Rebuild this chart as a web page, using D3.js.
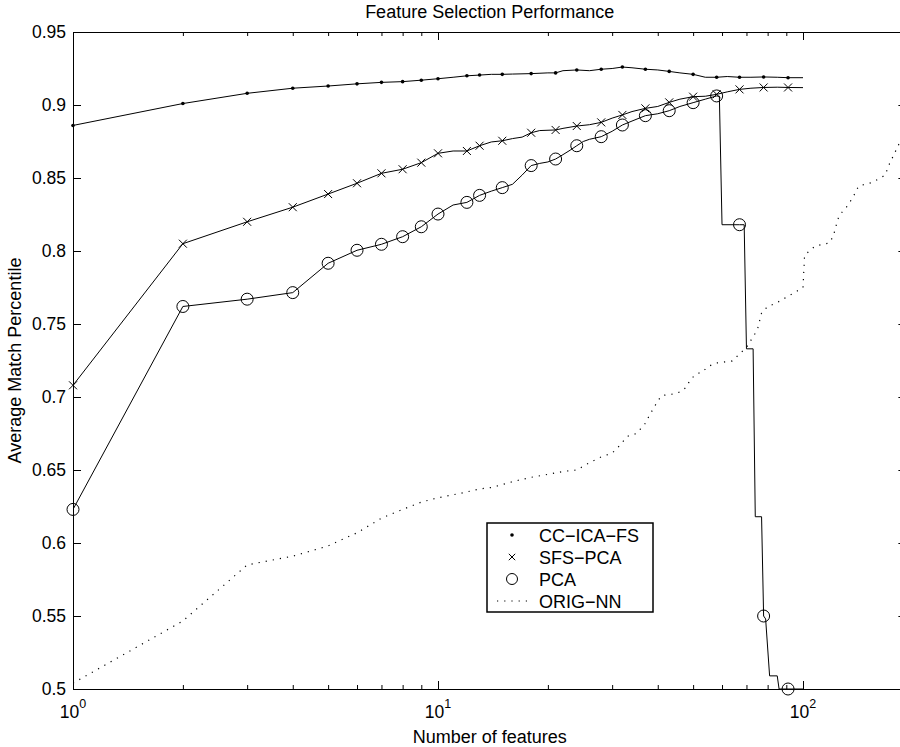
<!DOCTYPE html>
<html>
<head>
<meta charset="utf-8">
<script src="https://cdn.jsdelivr.net/npm/d3@7"></script>
<style>
  body { margin: 0; background: #fff; }
  svg { display: block; font-family: "Liberation Sans", Arial, sans-serif; }
</style>
</head>
<body>
<div id="chart"></div>
<script>
const width = 900;
const height = 747;

// values: [number of features, average match percentile]
const ccIcaFs = [[1,0.886],[2,0.901],[3,0.908],[4,0.9115],[5,0.913],[6,0.9145],[7,0.9155],[8,0.916],[9,0.917],[10,0.918],
  [11,0.919],[12,0.92],[13,0.9205],[14,0.921],[15,0.921],[16,0.9212],[18,0.9215],[20,0.922],[21,0.922],[22,0.9235],
  [24,0.924],[26,0.9235],[28,0.9245],[30,0.925],[32,0.926],[34,0.9255],[37,0.9245],[40,0.924],[43,0.923],[46,0.922],
  [50,0.921],[54,0.919],[58,0.919],[62,0.9195],[67,0.919],[72,0.919],[78,0.9192],[85,0.919],[91,0.9187],[100,0.9187]];

const sfsPca = [[1,0.708],[2,0.805],[3,0.82],[4,0.83],[5,0.839],[6,0.8464],[7,0.8532],[8,0.856],[9,0.8605],[10,0.8669],
  [11,0.8685],[12,0.8685],[13,0.8721],[14,0.8747],[15,0.8755],[16,0.877],[17,0.878],[18,0.881],[19,0.8825],[21,0.8829],
  [22,0.884],[24,0.8856],[26,0.8865],[28,0.8881],[30,0.891],[32,0.8932],[34,0.8955],[37,0.8977],[40,0.899],[43,0.9018],
  [46,0.904],[50,0.9057],[54,0.906],[58,0.9073],[62,0.909],[67,0.9107],[72,0.9115],[78,0.912],[85,0.9122],[91,0.912],[100,0.9119]];

const pca = [[1,0.623],[2,0.762],[3,0.767],[4,0.7715],[5,0.7916],[6,0.8005],[7,0.8046],[8,0.8098],[9,0.8166],[10,0.8253],
  [11,0.8315],[12,0.8333],[13,0.8381],[14,0.841],[15,0.8434],[16,0.8457],[17,0.852],[18,0.8585],[19,0.86],[20,0.861],
  [21,0.863],[22,0.866],[23,0.869],[24,0.8721],[25,0.875],[26,0.8765],[28,0.8783],[30,0.882],[32,0.8863],[34,0.889],
  [37,0.8927],[40,0.894],[43,0.8961],[46,0.899],[50,0.9016],[54,0.904],[58,0.9062],[59,0.906],[60,0.818],[67,0.818],
  [69,0.818],[70,0.733],[73,0.733],[74,0.618],[77,0.618],[78,0.55],[79,0.548],[81,0.509],[85,0.509],[86,0.5],[91,0.5],[100,0.5]];

const origNn = [[1,0.504],[2,0.5466],[3,0.585],[4,0.591],[5,0.598],[6,0.607],[7,0.617],[8,0.623],[9,0.628],[10,0.631],
  [11,0.633],[12,0.635],[13,0.637],[14,0.638],[15,0.64],[16,0.642],[18,0.645],[20,0.647],[22,0.649],[24,0.65],
  [26,0.655],[28,0.659],[30,0.6616],[31,0.665],[32,0.669],[33,0.673],[35,0.675],[37,0.682],[38,0.6877],[39,0.6925],
  [40,0.6973],[41,0.701],[44,0.702],[46,0.7034],[48,0.7068],[49,0.7116],[51,0.7158],[53,0.7171],[55,0.721],[58,0.7233],
  [61,0.724],[64,0.7247],[70,0.734],[75,0.746],[77,0.7575],[80,0.762],[84,0.764],[94,0.771],[100,0.775],[101,0.797],
  [104,0.8],[108,0.8034],[118,0.8055],[121,0.81],[123,0.8166],[125,0.8226],[128,0.8267],[133,0.8315],[139,0.8397],
  [142,0.8445],[155,0.847],[168,0.852],[172,0.859],[179,0.868],[183,0.873],[192,0.88]];

// feature counts where markers are drawn
const markerIdx = [1,2,3,4,5,6,7,8,9,10,12,13,15,18,21,24,28,32,37,43,50,58,67,78,91];

const legendNames = ["CC\u2212ICA\u2212FS", "SFS\u2212PCA", "PCA", "ORIG\u2212NN"];
const yTicks = [0.5, 0.55, 0.6, 0.65, 0.7, 0.75, 0.8, 0.85, 0.9, 0.95];
const xMajor = [1, 10, 100];
const xMinor = [2,3,4,5,6,7,8,9,20,30,40,50,60,70,80,90,200];
const xLimits = [1, 192];
const yLimits = [0.5, 0.95];

const plotLeft = 73, plotTop = 32, plotBottom = 689, decade = 365;

const x = d3.scaleLog()
    .domain(xLimits)
    .range([plotLeft, plotLeft + decade * Math.log10(xLimits[1])]);
const y = d3.scaleLinear()
    .domain(yLimits)
    .range([plotBottom, plotTop]);

const plotRight = x.range()[1];

const svg = d3.select("#chart")
    .append("svg")
    .attr("width", width)
    .attr("height", height);

svg.append("defs").append("clipPath")
    .attr("id", "plot-clip")
    .append("rect")
    .attr("x", plotLeft).attr("y", plotTop)
    .attr("width", plotRight - plotLeft).attr("height", plotBottom - plotTop);

// axes (MATLAB style, ticks pointing inwards on all four sides)
const axisStyle = g => {
    g.selectAll(".domain").attr("stroke", "#000").attr("stroke-width", 1);
    g.selectAll(".tick line").attr("stroke", "#000").attr("stroke-width", 1);
    g.selectAll("text").attr("fill", "#000").attr("font-size", 17.5)
        .attr("font-family", "'Liberation Sans', Arial, sans-serif");
};

svg.append("g")
    .attr("transform", `translate(0,${plotBottom})`)
    .call(d3.axisBottom(x).tickValues(xMajor).tickSize(-8).tickSizeOuter(0).tickFormat(""))
    .call(axisStyle);
svg.append("g")
    .attr("transform", `translate(0,${plotBottom})`)
    .call(d3.axisBottom(x).tickValues(xMinor).tickSize(-4).tickSizeOuter(0).tickFormat(""))
    .call(axisStyle);
svg.append("g")
    .attr("transform", `translate(0,${plotTop})`)
    .call(d3.axisTop(x).tickValues(xMajor).tickSize(-8).tickSizeOuter(0).tickFormat(""))
    .call(axisStyle);
svg.append("g")
    .attr("transform", `translate(0,${plotTop})`)
    .call(d3.axisTop(x).tickValues(xMinor).tickSize(-4).tickSizeOuter(0).tickFormat(""))
    .call(axisStyle);

svg.append("g")
    .attr("transform", `translate(${plotLeft},0)`)
    .call(d3.axisLeft(y).tickValues(yTicks).tickSize(-8).tickSizeOuter(0).tickPadding(7)
        .tickFormat(d => String(+d.toFixed(2))))
    .call(axisStyle);
svg.append("g")
    .attr("transform", `translate(${plotRight},0)`)
    .call(d3.axisRight(y).tickValues(yTicks).tickSize(-8).tickSizeOuter(0).tickFormat(""))
    .call(axisStyle);

// x tick labels as powers of ten
const xLabels = svg.append("g")
    .attr("font-size", 17.5);
xMajor.forEach(v => {
    const t = xLabels.append("text")
        .attr("x", x(v))
        .attr("y", plotBottom + 29)
        .attr("text-anchor", "middle");
    t.append("tspan").text("10");
    t.append("tspan").attr("dy", -10).attr("font-size", 12.5).text(Math.round(Math.log10(v)));
});

// series
const line = d3.line()
    .x(d => x(d[0]))
    .y(d => y(d[1]));

const plot = svg.append("g");
const lines = plot.append("g").attr("clip-path", "url(#plot-clip)");

[ccIcaFs, sfsPca, pca].forEach(data => {
    lines.append("path")
        .datum(data)
        .attr("d", line)
        .attr("fill", "none")
        .attr("stroke", "#000")
        .attr("stroke-width", 1);
});

lines.append("path")
    .datum(origNn)
    .attr("d", line)
    .attr("fill", "none")
    .attr("stroke", "#000")
    .attr("stroke-width", 1.2)
    .attr("stroke-dasharray", "1.2,6");

const atMarkers = data => data.filter(d => markerIdx.includes(d[0]));

const crossPath = s => `M${-s},${-s}L${s},${s}M${-s},${s}L${s},${-s}`;

plot.append("g").selectAll("circle")
    .data(atMarkers(ccIcaFs))
    .join("circle")
    .attr("cx", d => x(d[0]))
    .attr("cy", d => y(d[1]))
    .attr("r", 1.8)
    .attr("fill", "#000");

plot.append("g").selectAll("path")
    .data(atMarkers(sfsPca))
    .join("path")
    .attr("transform", d => `translate(${x(d[0])},${y(d[1])})`)
    .attr("d", crossPath(4))
    .attr("stroke", "#000")
    .attr("stroke-width", 1);

plot.append("g").selectAll("circle")
    .data(atMarkers(pca))
    .join("circle")
    .attr("cx", d => x(d[0]))
    .attr("cy", d => y(d[1]))
    .attr("r", 6)
    .attr("fill", "none")
    .attr("stroke", "#000")
    .attr("stroke-width", 1);

// legend
const legend = svg.append("g").attr("transform", "translate(487,523)");
legend.append("rect")
    .attr("width", 166).attr("height", 89)
    .attr("fill", "#fff")
    .attr("stroke", "#000")
    .attr("stroke-width", 1.5);

const rowY = i => 12 + i * 22;
legend.append("circle").attr("cx", 25).attr("cy", rowY(0)).attr("r", 1.8).attr("fill", "#000");
legend.append("path")
    .attr("transform", `translate(25,${rowY(1)})`)
    .attr("d", crossPath(3.2))
    .attr("stroke", "#000").attr("stroke-width", 1);
legend.append("circle").attr("cx", 25).attr("cy", rowY(2)).attr("r", 5.5)
    .attr("fill", "none").attr("stroke", "#000").attr("stroke-width", 1);
legend.append("line")
    .attr("x1", 10).attr("x2", 41).attr("y1", rowY(3)).attr("y2", rowY(3))
    .attr("stroke", "#000").attr("stroke-width", 1.2).attr("stroke-dasharray", "1.2,6");

legend.selectAll("text.entry")
    .data(legendNames)
    .join("text")
    .attr("class", "entry")
    .attr("x", 52)
    .attr("y", (d, i) => rowY(i) + 6.5)
    .attr("font-size", 18)
    .text(d => d);

// titles
svg.append("text")
    .attr("x", (plotLeft + plotRight) / 2)
    .attr("y", 18)
    .attr("text-anchor", "middle")
    .attr("font-size", 18)
    .text("Feature Selection Performance");

svg.append("text")
    .attr("x", (plotLeft + plotRight) / 2)
    .attr("y", 743)
    .attr("text-anchor", "middle")
    .attr("font-size", 18)
    .text("Number of features");

svg.append("text")
    .attr("transform", `translate(21,${(plotTop + plotBottom) / 2}) rotate(-90)`)
    .attr("text-anchor", "middle")
    .attr("font-size", 18)
    .text("Average Match Percentile");
</script>
</body>
</html>
